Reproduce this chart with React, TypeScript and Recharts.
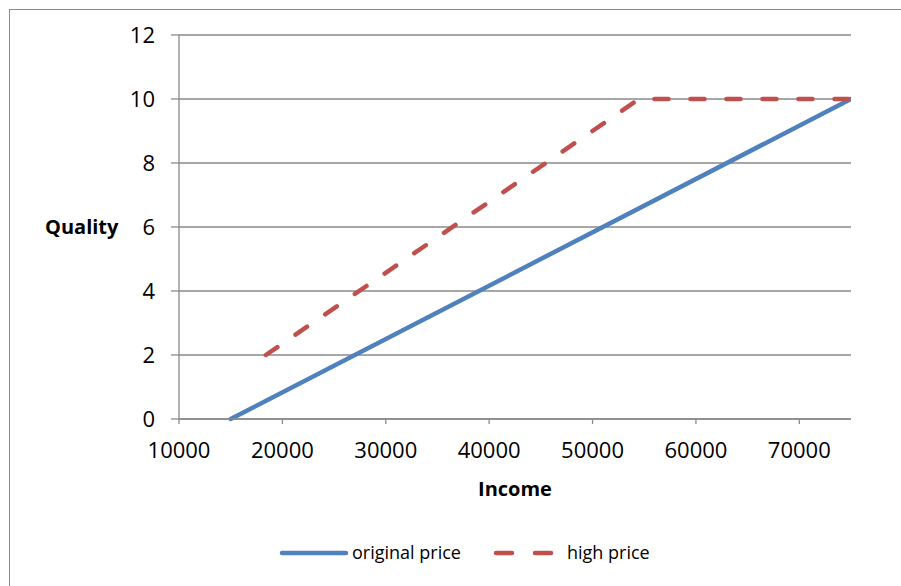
import { LineChart, Line, XAxis, YAxis, CartesianGrid, Label } from "recharts";

const originalIncome = [15000, 75000];
const originalQuality = [0, 10];
const highIncome = [18400, 54500, 75000];
const highQuality = [2, 10, 10];
const incomeTicks = [10000, 20000, 30000, 40000, 50000, 60000, 70000];
const qualityTicks = [0, 2, 4, 6, 8, 10, 12];
const seriesNames = ["original price", "high price"];
const seriesColors = ["#4F81BD", "#C0504D"];

const originalData = originalIncome.map((x, i) => ({ x, y: originalQuality[i] }));
const highData = highIncome.map((x, i) => ({ x, y: highQuality[i] }));

const FONT = "'Open Sans', sans-serif";
const GRID = "#8a8a8a";

export default function App() {
  return (
    <div
      style={{
        position: "absolute",
        left: 0,
        top: 0,
        width: 901,
        height: 586,
        overflow: "hidden",
        background: "#fff",
        fontFamily: FONT,
      }}
    >
      <div
        style={{
          position: "absolute",
          left: 9,
          top: 9,
          width: 920,
          height: 620,
          border: `1px solid ${GRID}`,
        }}
      />
      <div style={{ position: "absolute", left: 0, top: 0 }}>
        <LineChart
          width={901}
          height={586}
          margin={{ top: 35, right: 50, bottom: 77, left: 39 }}
        >
          <CartesianGrid vertical={false} stroke={GRID} strokeWidth={1.3} />
          <XAxis
            type="number"
            dataKey="x"
            domain={[10000, 75000]}
            ticks={incomeTicks}
            allowDataOverflow
            height={90}
            stroke={GRID}
            strokeWidth={1.3}
            tickSize={5}
            tickMargin={18}
            tick={{ fontSize: 22, fill: "#000", fontFamily: FONT }}
          >
            <Label
              value="Income"
              position="insideTop"
              offset={63}
              style={{ fontSize: 20, fontWeight: 700, fill: "#000", fontFamily: FONT }}
            />
          </XAxis>
          <YAxis
            type="number"
            domain={[0, 12]}
            ticks={qualityTicks}
            width={140}
            stroke={GRID}
            strokeWidth={1.3}
            tickSize={8}
            tickMargin={16}
            tick={{ fontSize: 22, fill: "#000", fontFamily: FONT }}
          >
            <Label
              value="Quality"
              position="insideLeft"
              offset={6}
              style={{ fontSize: 20, fontWeight: 700, fill: "#000", fontFamily: FONT }}
            />
          </YAxis>
          <Line
            data={originalData}
            dataKey="y"
            name={seriesNames[0]}
            stroke={seriesColors[0]}
            strokeWidth={4.5}
            strokeLinecap="round"
            dot={false}
            isAnimationActive={false}
          />
          <Line
            data={highData}
            dataKey="y"
            name={seriesNames[1]}
            stroke={seriesColors[1]}
            strokeWidth={4.5}
            strokeLinecap="round"
            strokeDasharray="14 22"
            dot={false}
            isAnimationActive={false}
          />
        </LineChart>
      </div>
      <svg
        width={901}
        height={30}
        style={{ position: "absolute", left: 0, top: 538 }}
      >
        <line x1={282} y1={15} x2={346} y2={15} stroke={seriesColors[0]} strokeWidth={4.5} strokeLinecap="round" />
        <text x={352} y={21} fontSize={18} fontFamily={FONT} fill="#000">
          {seriesNames[0]}
        </text>
        <line x1={496} y1={15} x2={555} y2={15} stroke={seriesColors[1]} strokeWidth={4.5} strokeLinecap="round" strokeDasharray="16 23" />
        <text x={567} y={21} fontSize={18} fontFamily={FONT} fill="#000">
          {seriesNames[1]}
        </text>
      </svg>
    </div>
  );
}
